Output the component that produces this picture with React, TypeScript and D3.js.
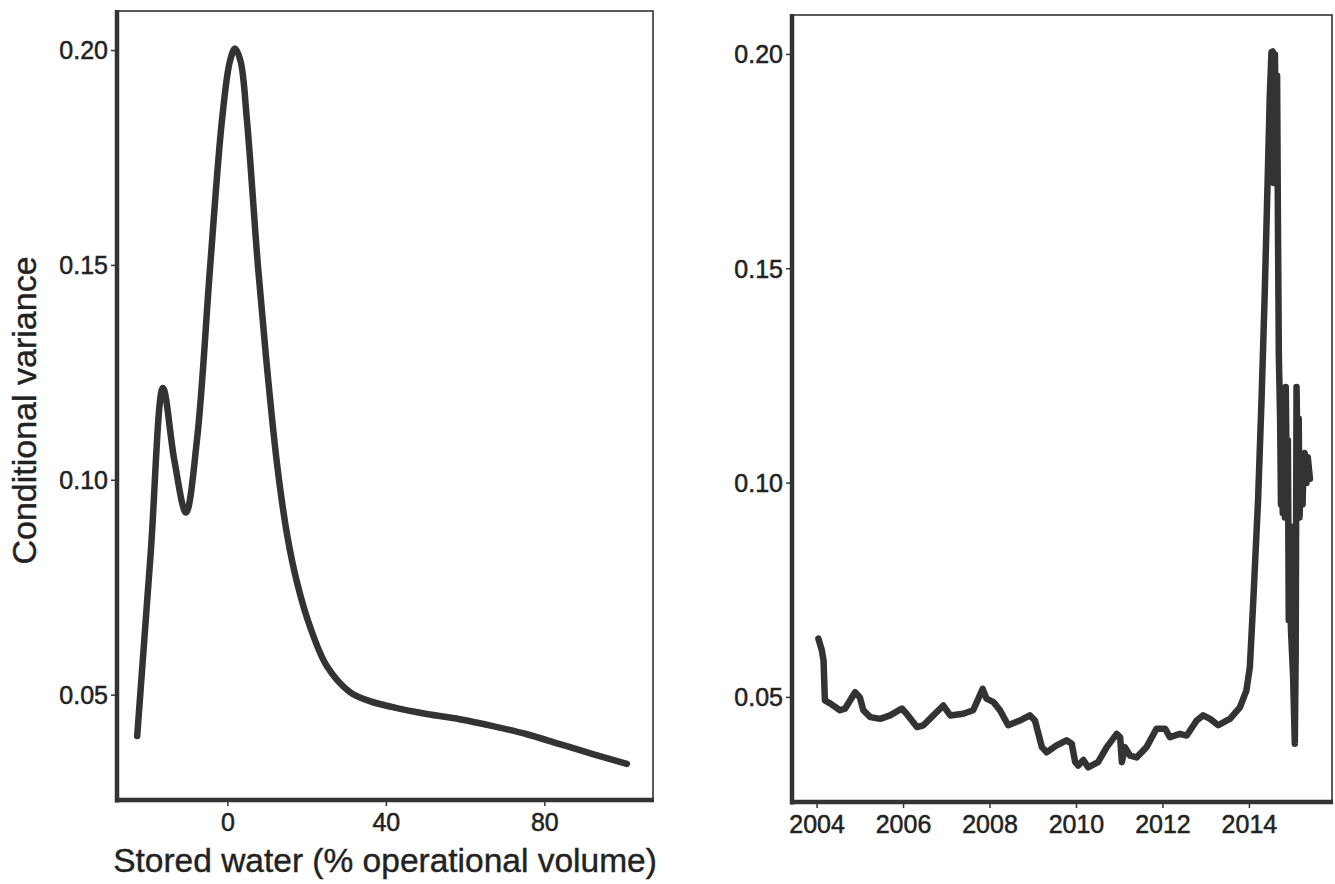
import React from "react";
import * as d3 from "d3";

// Left panel: conditional variance vs stored water (% operational volume)
const storedWater: number[] = [-22.9, -19.5, -16.4, -13.5, -10.6, -7.8, -4.5, -1.5, 0.5, 1.8, 3.2, 4.8, 7.6, 10.0, 12.5, 15.0, 17.5, 20.7, 25.0, 30.8, 35.8, 41.6, 50.2, 58.5, 66.9, 75.5, 83.8, 92.1, 100.7];
const storedVariance: number[] = [0.0405, 0.083, 0.1215, 0.1045, 0.0925, 0.1095, 0.1496, 0.1838, 0.1975, 0.2005, 0.1975, 0.1838, 0.1496, 0.125, 0.103, 0.087, 0.076, 0.066, 0.0567, 0.0507, 0.0486, 0.0472, 0.0456, 0.0444, 0.0428, 0.0409, 0.0386, 0.0363, 0.034];

// Right panel: conditional variance through time
const years: number[] = [
  2004.03, 2004.11, 2004.15, 2004.18, 2004.30, 2004.53, 2004.65, 2004.88, 2004.99, 2005.07,
  2005.23, 2005.46, 2005.69, 2005.96, 2006.07, 2006.31, 2006.46, 2006.69, 2006.92, 2007.08,
  2007.38, 2007.61, 2007.83, 2007.92, 2008.08, 2008.23, 2008.42, 2008.69, 2008.92, 2009.04,
  2009.20, 2009.31, 2009.54, 2009.77, 2009.89, 2009.97, 2010.04, 2010.16, 2010.27, 2010.50,
  2010.70, 2010.93, 2011.01, 2011.05, 2011.12, 2011.24, 2011.39, 2011.62, 2011.85, 2012.05,
  2012.16, 2012.39, 2012.55, 2012.78, 2012.93, 2013.09, 2013.28, 2013.47, 2013.55, 2013.78,
  2013.93, 2014.01, 2014.09, 2014.20, 2014.28, 2014.35, 2014.43, 2014.47, 2014.51, 2014.54,
  2014.56, 2014.59, 2014.61, 2014.64, 2014.66, 2014.68, 2014.71, 2014.73, 2014.75, 2014.77,
  2014.80, 2014.82, 2014.84, 2014.87, 2014.89, 2014.91, 2014.94, 2014.96, 2015.01, 2015.05,
  2015.07, 2015.09, 2015.12, 2015.14, 2015.16, 2015.18, 2015.23, 2015.25, 2015.28, 2015.32,
  2015.35, 2015.40
];
const timeVariance: number[] = [
  0.0637, 0.061, 0.0586, 0.0493, 0.0486, 0.047, 0.0474, 0.0512, 0.050, 0.047,
  0.0454, 0.045, 0.0458, 0.0474, 0.0462, 0.0431, 0.0435, 0.0458, 0.0481, 0.0458,
  0.0462, 0.047, 0.052, 0.0497, 0.0489, 0.047, 0.0435, 0.0446, 0.0458, 0.0446,
  0.0384, 0.0372, 0.0388, 0.040, 0.0392, 0.0349, 0.0341, 0.0354, 0.0337, 0.0349,
  0.0384, 0.0415, 0.0407, 0.0349, 0.0384, 0.0364, 0.036, 0.0384, 0.0427, 0.0427,
  0.0407, 0.0415, 0.0411, 0.0446, 0.0458, 0.045, 0.0435, 0.0446, 0.045, 0.0477,
  0.0516, 0.0571, 0.0727, 0.096, 0.1194, 0.1428, 0.1739, 0.19, 0.2005, 0.2007,
  0.17, 0.20, 0.18, 0.195, 0.16, 0.13, 0.115, 0.095, 0.118, 0.093,
  0.12, 0.092, 0.1224, 0.095, 0.11, 0.068, 0.09, 0.066, 0.055, 0.0392,
  0.06, 0.1224, 0.10, 0.115, 0.092, 0.10, 0.095, 0.105, 0.107, 0.10,
  0.106, 0.101
];

const yTicks: number[] = [0.05, 0.1, 0.15, 0.2];
const xTicksLeft: number[] = [0, 40, 80];
const xTicksRight: number[] = [2004, 2006, 2008, 2010, 2012, 2014];

const yLabel = "Conditional variance";
const xLabelLeft = "Stored water (% operational volume)";

const INK = "#333333";
const TEXT = "#222222";
const FONT = "'Liberation Sans', Arial, Helvetica, sans-serif";

type PanelProps = {
  left: number; right: number; top: number; bottom: number;
  xDomain: [number, number];
  xs: number[]; ys: number[];
  xTicks: number[];
  smooth: boolean;
  lineWidth: number;
};

function Panel(p: PanelProps) {
  const x = d3.scaleLinear().domain(p.xDomain).range([p.left, p.right]);
  const y = d3.scaleLinear().domain([0.0256, 0.2092]).range([p.bottom, p.top]);
  const pts: [number, number][] = p.xs.map((v, i) => [v, p.ys[i]]);
  const line = d3.line<[number, number]>()
    .x((d) => x(d[0]))
    .y((d) => y(d[1]))
    .curve(p.smooth ? d3.curveCatmullRom.alpha(0.5) : d3.curveLinear);
  return (
    <g>
      <rect x={p.left} y={p.top} width={p.right - p.left} height={p.bottom - p.top}
        fill="white" stroke={INK} strokeWidth={1.6} />
      <path d={line(pts) || ""} fill="none" stroke={INK} strokeWidth={p.lineWidth}
        strokeLinejoin="round" strokeLinecap="round" />
      <line x1={p.left} x2={p.left} y1={p.top - 1} y2={p.bottom + 2.5} stroke={INK} strokeWidth={4.5} />
      <line x1={p.left - 2} x2={p.right + 1} y1={p.bottom} y2={p.bottom} stroke={INK} strokeWidth={4.5} />
      {yTicks.map((t) => (
        <g key={"y" + t}>
          <line x1={p.left - 6} x2={p.left} y1={y(t)} y2={y(t)} stroke={INK} strokeWidth={1.5} />
          <text x={p.left - 9} y={y(t)} dy="0.35em" textAnchor="end" fontSize={25}
            fontFamily={FONT} fill={TEXT} stroke={TEXT} strokeWidth={0.5}>{d3.format(".2f")(t)}</text>
        </g>
      ))}
      {p.xTicks.map((t) => (
        <g key={"x" + t}>
          <line x1={x(t)} x2={x(t)} y1={p.bottom} y2={p.bottom + 6} stroke={INK} strokeWidth={1.5} />
          <text x={x(t)} y={p.bottom + 31} textAnchor="middle" fontSize={25}
            fontFamily={FONT} fill={TEXT} stroke={TEXT} strokeWidth={0.5}>{String(t)}</text>
        </g>
      ))}
    </g>
  );
}

export default function App() {
  const L = { left: 117, right: 653, top: 11, bottom: 800 };
  const R = { left: 792, right: 1332, top: 15, bottom: 802 };
  return (
    <svg width={1335} height={884} style={{ position: "absolute", left: 0, top: 0, background: "white" }}>
      <rect x={0} y={0} width={1335} height={884} fill="white" />
      <Panel {...L} xDomain={[-28.0, 107.3]} xs={storedWater} ys={storedVariance}
        xTicks={xTicksLeft} smooth={true} lineWidth={6.5} />
      <Panel {...R} xDomain={[2003.42, 2015.91]} xs={years} ys={timeVariance}
        xTicks={xTicksRight} smooth={false} lineWidth={6.5} />
      <text transform={`translate(36, ${(L.top + L.bottom) / 2 + 5}) rotate(-90)`} textAnchor="middle"
        fontSize={34} fontFamily={FONT} fill={TEXT} stroke={TEXT} strokeWidth={0.4}>{yLabel}</text>
      <text x={(L.left + L.right) / 2} y={872} textAnchor="middle" fontSize={33.5}
        fontFamily={FONT} fill={TEXT} stroke={TEXT} strokeWidth={0.4}>{xLabelLeft}</text>
    </svg>
  );
}
